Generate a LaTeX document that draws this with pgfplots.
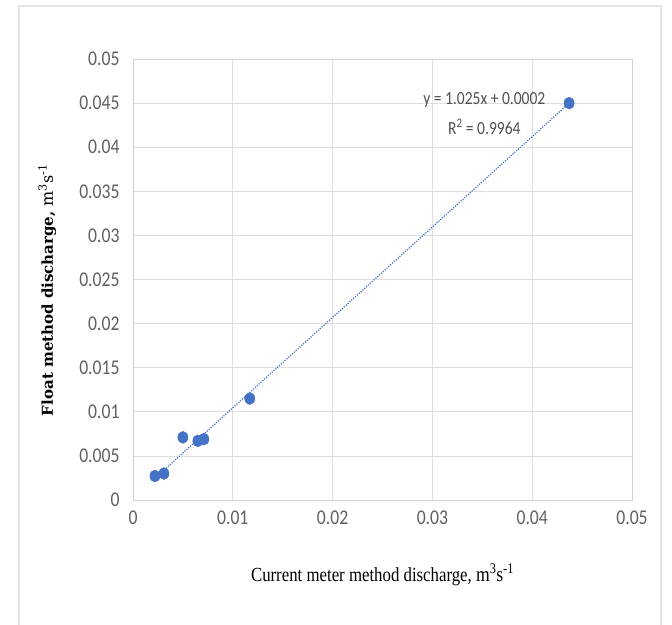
\documentclass[border=0pt]{standalone}
\usepackage{graphicx}
\usepackage{pgfplots}
\pgfplotsset{compat=1.18}
\usepackage{fontspec}
\setmainfont{Liberation Serif}
\newfontfamily\carlito{Carlito}
\newfontfamily\dvserif{DejaVu Serif}
\definecolor{xlblue}{HTML}{4472C4}
\definecolor{ticktxt}{HTML}{606060}
\newcommand{\nar}[1]{\scalebox{0.84}[1]{#1}}
\begin{document}
\begin{tikzpicture}[x=1pt,y=1pt]
\fill[white] (0,0) rectangle (672,624);
\begin{scope}
\clip (0,0) rectangle (672,624);
\draw[gray!22, line width=1.2pt] (19,-10) -- (19,618) -- (661,618) -- (661,-10);
\end{scope}
\begin{axis}[
  at={(133pt,124pt)}, anchor=south west,
  scale only axis, width=499pt, height=441pt,
  xmin=0, xmax=0.05, ymin=0, ymax=0.05,
  scaled ticks=false,
  xtick={0,0.01,0.02,0.03,0.04,0.05},
  xticklabels={\nar{0},\nar{0.01},\nar{0.02},\nar{0.03},\nar{0.04},\nar{0.05}},
  ytick={0,0.005,0.01,0.015,0.02,0.025,0.03,0.035,0.04,0.045,0.05},
  yticklabels={\nar{0},\nar{0.005},\nar{0.01},\nar{0.015},\nar{0.02},\nar{0.025},\nar{0.03},\nar{0.035},\nar{0.04},\nar{0.045},\nar{0.05}},
  major tick length=0pt,
  grid=major,
  grid style={gray!25, line width=0.8pt},
  axis line style={gray!35, line width=0.8pt},
  tick label style={font=\carlito\fontsize{21}{21}\selectfont, text=ticktxt},
  xticklabel style={yshift=-7pt},
  yticklabel style={xshift=-10pt},
  xlabel={\nar{Current meter method discharge, {\fontsize{21}{21}\selectfont m\textsuperscript{3}s\textsuperscript{-1}}}},
  x label style={at={(axis description cs:0.5,-0.17)}, anchor=center, font=\fontsize{20}{20}\selectfont},
  ylabel={{\bfseries Float method discharge,} {\fontsize{16}{16}\selectfont m\textsuperscript{3}s\textsuperscript{-1}}},
  y label style={at={(axis description cs:-0.172,0.476)}, anchor=center, font=\dvserif\fontsize{15}{16}\selectfont},
  clip=false,
]
\addplot[xlblue, line width=1.2pt, dash pattern=on 1.2pt off 1.3pt] coordinates {(0.0022,0.002455) (0.0437,0.0450)};
\addplot[only marks, mark=*, mark size=6pt, color=xlblue, mark options={xscale=0.85, draw=xlblue, fill=xlblue}] coordinates {
(0.0022,0.00272)
(0.0031,0.0030)
(0.0050,0.0071)
(0.0065,0.0067)
(0.0071,0.0069)
(0.0117,0.0115)
(0.0437,0.0450)
};
\node[font=\carlito\fontsize{18.5}{18}\selectfont, text=ticktxt!85!black] at (axis cs:0.0352,0.04535) {\nar{y = 1.025x + 0.0002}};
\node[font=\carlito\fontsize{18.5}{18}\selectfont, text=ticktxt!85!black] at (axis cs:0.0352,0.04229) {\nar{R\textsuperscript{2} = 0.9964}};
\end{axis}
\end{tikzpicture}
\end{document}
